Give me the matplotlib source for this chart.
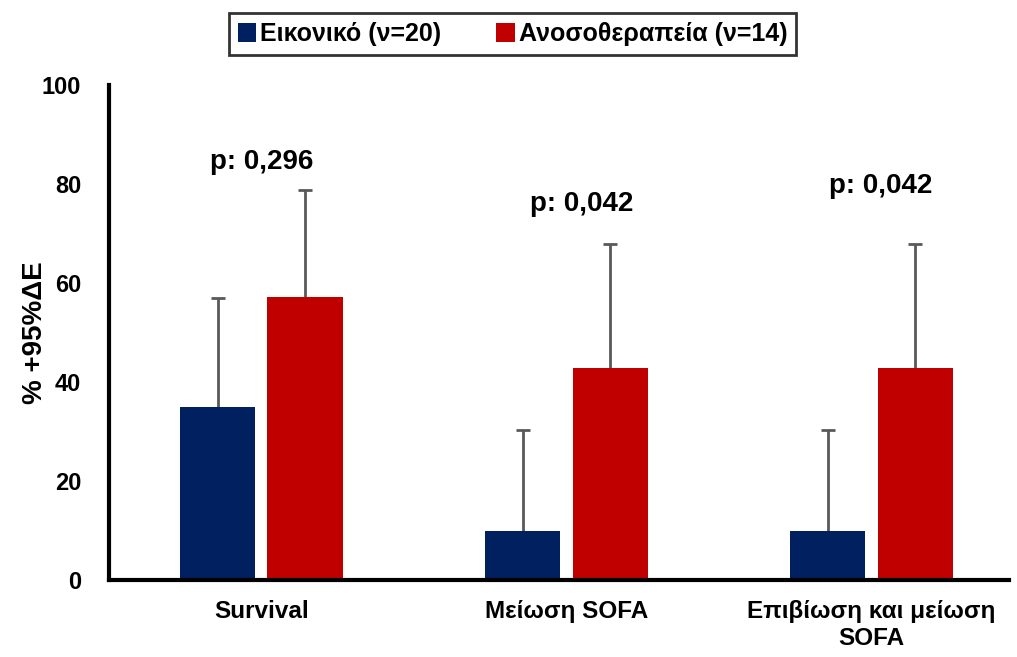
import numpy as np
import matplotlib.pyplot as plt
from matplotlib.patches import Patch

plt.rcParams['font.family'] = ['Liberation Sans', 'DejaVu Sans']
plt.rcParams['font.weight'] = 'bold'

# δεδομένα
categories = ['Survival', 'Μείωση SOFA', 'Επιβίωση και μείωση\nSOFA']
placebo = [35.0, 10.0, 10.0]
placebo_upper = [57.0, 30.3, 30.3]
immuno = [57.1, 42.9, 42.9]
immuno_upper = [78.8, 67.8, 67.8]
p_labels = ['p: 0,296', 'p: 0,042', 'p: 0,042']
p_pos_y = [84.5, 76.0, 79.5]
series_names = ['Εικονικό (ν=20)', 'Ανοσοθεραπεία (ν=14)']

blue = '#002060'
red = '#C00000'
grey = '#595959'

fig = plt.figure(figsize=(10.17, 6.57), dpi=100)
ax = fig.add_axes([0.107, 0.117, 0.885, 0.754])

x = np.arange(len(categories))
w = 0.246
off = 0.143

err_p = [np.zeros(3), np.array(placebo_upper) - np.array(placebo)]
err_i = [np.zeros(3), np.array(immuno_upper) - np.array(immuno)]

ax.bar(x - off, placebo, w, color=blue, zorder=2)
ax.bar(x + off, immuno, w, color=red, zorder=2)
for xs, vals, err in [(x - off, placebo, err_p), (x + off, immuno, err_i)]:
    eb = ax.errorbar(xs, vals, yerr=err, fmt='none', ecolor=grey,
                     elinewidth=2, capsize=5, capthick=2, zorder=1)
    eb[1][0].remove()  # μόνο πάνω καπάκι

for i, t in enumerate(p_labels):
    ax.text(x[i] + [0.0, 0.05, 0.03][i], p_pos_y[i], t, ha='center', va='center',
            fontsize=20, fontweight='bold')

ax.set_xlim(-0.5, 2.45)
ax.set_ylim(0, 100)
ax.set_yticks([0, 20, 40, 60, 80, 100])
ax.set_xticks(x)
ax.set_xticklabels(categories, fontsize=17.5, fontweight='bold', linespacing=1.25)
ax.tick_params(axis='y', length=0, labelsize=17, pad=20)
ax.tick_params(axis='x', length=0, pad=14)
ax.set_ylabel('% +95%ΔΕ', fontsize=20, fontweight='bold')
ax.yaxis.set_label_coords(-0.068, 0.5)

for s in ['top', 'right']:
    ax.spines[s].set_visible(False)
for s in ['left', 'bottom']:
    ax.spines[s].set_linewidth(3)

handles = [Patch(facecolor=blue, label=series_names[0]),
           Patch(facecolor=red, label=series_names[1])]
leg = fig.legend(handles=handles, loc='center', bbox_to_anchor=(0.504, 0.948),
                 ncol=2, fontsize=18, frameon=True, fancybox=False,
                 edgecolor='black', handlelength=0.75, handleheight=0.75,
                 handletextpad=0.15, columnspacing=2.2, borderpad=0.35)
leg.get_frame().set_linewidth(2)

fig.savefig('out.png', dpi=100)
